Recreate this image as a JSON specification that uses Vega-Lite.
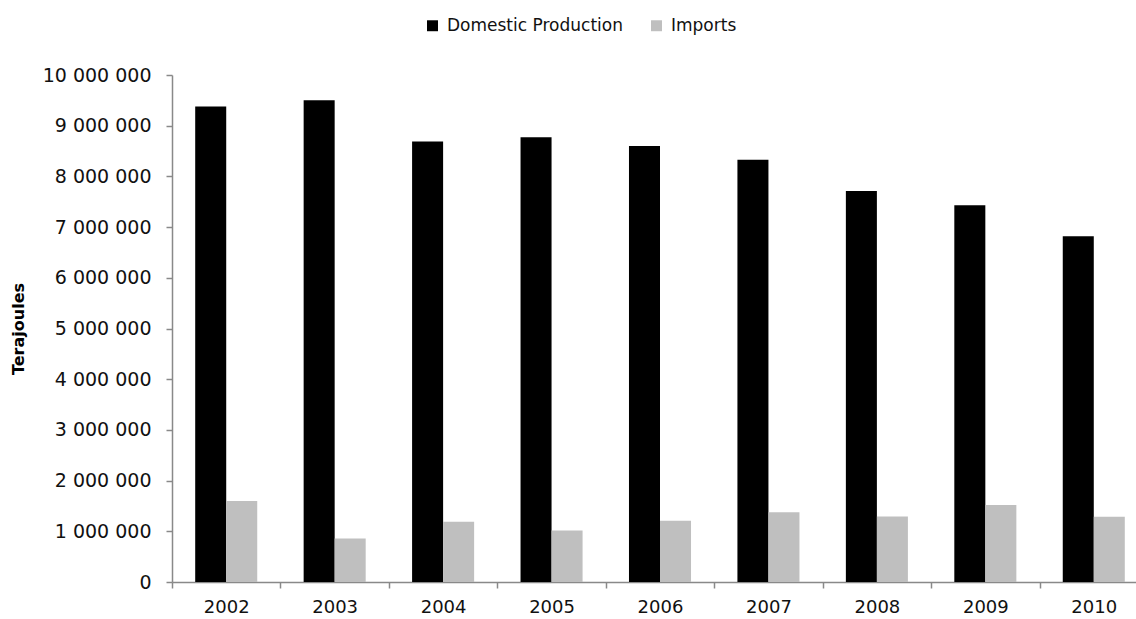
{
  "$schema": "https://vega.github.io/schema/vega-lite/v6.json",
  "width": 964,
  "height": 507,
  "autosize": {"type": "none"},
  "padding": {"left": 172, "top": 75, "right": 0, "bottom": 37},
  "background": "white",
  "data": {
    "values": [
      {"year": "2002", "series": "Domestic Production", "value": 9380000},
      {"year": "2002", "series": "Imports", "value": 1600000},
      {"year": "2003", "series": "Domestic Production", "value": 9500000},
      {"year": "2003", "series": "Imports", "value": 857000},
      {"year": "2004", "series": "Domestic Production", "value": 8690000},
      {"year": "2004", "series": "Imports", "value": 1186000},
      {"year": "2005", "series": "Domestic Production", "value": 8770000},
      {"year": "2005", "series": "Imports", "value": 1015000},
      {"year": "2006", "series": "Domestic Production", "value": 8600000},
      {"year": "2006", "series": "Imports", "value": 1210000},
      {"year": "2007", "series": "Domestic Production", "value": 8330000},
      {"year": "2007", "series": "Imports", "value": 1375000},
      {"year": "2008", "series": "Domestic Production", "value": 7710000},
      {"year": "2008", "series": "Imports", "value": 1290000},
      {"year": "2009", "series": "Domestic Production", "value": 7430000},
      {"year": "2009", "series": "Imports", "value": 1520000},
      {"year": "2010", "series": "Domestic Production", "value": 6820000},
      {"year": "2010", "series": "Imports", "value": 1285000}
    ]
  },
  "mark": {"type": "bar"},
  "encoding": {
    "x": {
      "field": "year",
      "type": "nominal",
      "scale": {"paddingInner": 0, "paddingOuter": 0, "range": [0, 976]},
      "axis": {
        "title": null,
        "labelAngle": 0,
        "tickBand": "extent",
        "tickSize": 6,
        "labelPadding": 10,
        "labelFontSize": 18
      }
    },
    "xOffset": {
      "field": "series",
      "type": "nominal",
      "sort": ["Domestic Production", "Imports"],
      "scale": {"paddingInner": 0, "paddingOuter": 0.748}
    },
    "y": {
      "field": "value",
      "type": "quantitative",
      "scale": {"domain": [0, 10000000], "nice": false, "zero": true},
      "axis": {
        "title": "Terajoules",
        "values": [0, 1000000, 2000000, 3000000, 4000000, 5000000, 6000000, 7000000, 8000000, 9000000, 10000000],
        "format": ",d",
        "tickSize": 6,
        "labelPadding": 15,
        "labelFontSize": 19,
        "titleFontSize": 16,
        "titleFontWeight": "bold",
        "titlePadding": 16
      }
    },
    "color": {
      "field": "series",
      "type": "nominal",
      "scale": {"domain": ["Domestic Production", "Imports"], "range": ["#000000", "#bfbfbf"]},
      "legend": {
        "title": null,
        "orient": "none",
        "direction": "horizontal",
        "legendX": 252,
        "legendY": -58,
        "symbolType": "square",
        "symbolSize": 120,
        "symbolStrokeWidth": 0,
        "labelFontSize": 17,
        "labelLimit": 400,
        "labelOffset": 6,
        "columnPadding": 25,
        "padding": 0
      }
    }
  },
  "config": {
    "locale": {"number": {"decimal": ".", "thousands": " ", "grouping": [3], "currency": ["", ""]}},
    "font": "DejaVu Sans",
    "view": {"stroke": null},
    "axis": {
      "grid": false,
      "domainColor": "#898989",
      "domainWidth": 1.5,
      "tickColor": "#898989",
      "tickWidth": 1.5,
      "labelColor": "#111111",
      "titleColor": "#000000",
      "labelFont": "DejaVu Sans",
      "titleFont": "DejaVu Sans"
    },
    "legend": {"labelColor": "#111111", "labelFont": "DejaVu Sans"}
  }
}
